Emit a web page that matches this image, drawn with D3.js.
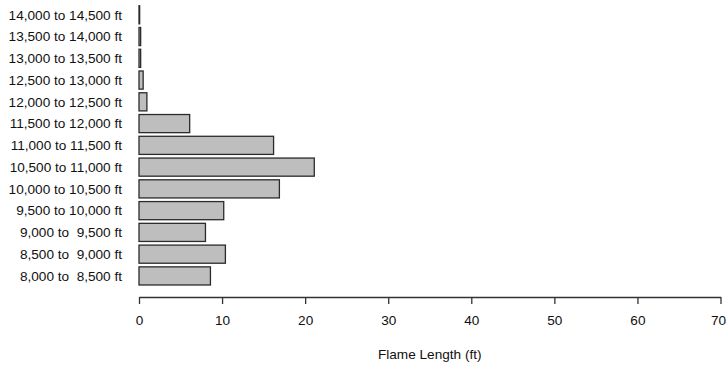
<!DOCTYPE html>
<html lang="en">
<head>
<meta charset="utf-8">
<title>Flame Length by Elevation</title>
<script src="https://d3js.org/d3.v7.min.js"></script>
<style>
  body { margin: 0; background: #fff; }
  svg text { font-family: "Liberation Sans", Arial, sans-serif; font-size: 13.6px; fill: #111; }
  .cat { white-space: pre; }
</style>
</head>
<body>
<div id="chart"></div>
<script>
// elevation bands, bottom to top
var bands = ["8,000 to  8,500 ft", "8,500 to  9,000 ft", "9,000 to  9,500 ft",
  "9,500 to 10,000 ft", "10,000 to 10,500 ft", "10,500 to 11,000 ft",
  "11,000 to 11,500 ft", "11,500 to 12,000 ft", "12,000 to 12,500 ft",
  "12,500 to 13,000 ft", "13,000 to 13,500 ft", "13,500 to 14,000 ft",
  "14,000 to 14,500 ft"];
var flameLength = [8.6, 10.4, 8.0, 10.2, 16.9, 21.1, 16.2, 6.1, 0.95, 0.5, 0.2, 0.2, 0.08];
var xTicks = [0, 10, 20, 30, 40, 50, 60, 70];

var W = 727, H = 366;
var svg = d3.select("#chart").append("svg")
  .attr("width", W).attr("height", H);

var x = d3.scaleLinear().domain([0, 70]).range([139, 720.5]);
var y = d3.scaleBand().domain(bands).range([286.8, 3.9])
  .paddingInner(0.1667).paddingOuter(0.0833);

// bars
svg.append("g").selectAll("rect")
  .data(bands)
  .enter().append("rect")
    .attr("x", x(0))
    .attr("y", function(d) { return y(d); })
    .attr("width", function(d, i) { return x(flameLength[i]) - x(0); })
    .attr("height", y.bandwidth())
    .style("fill", "#bebebe")
    .style("stroke", "#2b2b2b")
    .style("stroke-width", 1.3);

// category labels
svg.append("g").selectAll("text")
  .data(bands)
  .enter().append("text")
    .attr("class", "cat")
    .attr("x", 122)
    .attr("y", function(d) { return y(d) + y.bandwidth() / 2; })
    .attr("dy", "0.35em")
    .style("text-anchor", "end")
    .text(function(d) { return d; });

// x axis
var axis = svg.append("g")
  .attr("transform", "translate(0,297)")
  .call(d3.axisBottom(x).tickValues(xTicks).tickSize(7).tickPadding(11).tickSizeOuter(0));
axis.select(".domain").attr("stroke", "#333").attr("stroke-width", 1.3);
axis.selectAll(".tick line").attr("stroke", "#333").attr("stroke-width", 1.3);
axis.selectAll(".tick text")
  .style("font-family", "Liberation Sans, Arial, sans-serif")
  .style("font-size", "13.6px").style("fill", "#111");
// last label sits at the page edge, pull it in a touch
axis.selectAll(".tick text").filter(function(d) { return d === 70; })
  .attr("dx", -2.5);

svg.append("text")
  .attr("x", (x(0) + x(70)) / 2)
  .attr("y", 359)
  .style("text-anchor", "middle")
  .text("Flame Length (ft)");
</script>
</body>
</html>
